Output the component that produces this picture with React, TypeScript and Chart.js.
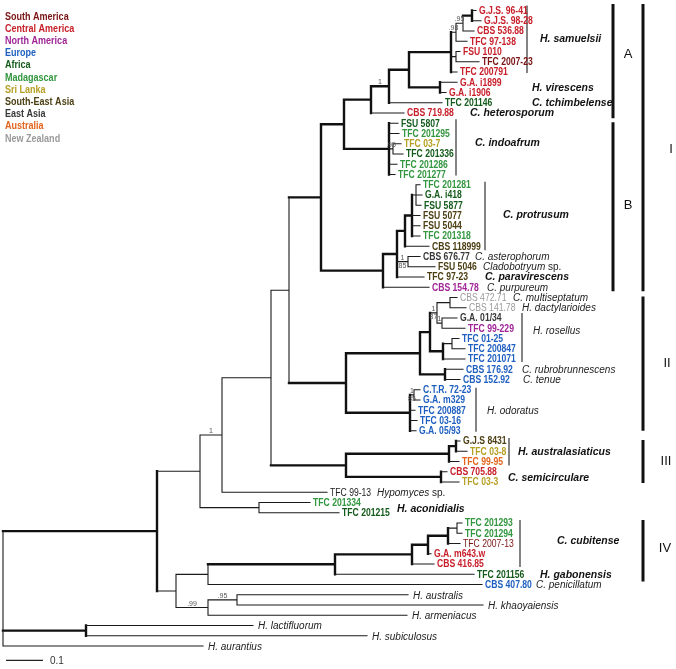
import React, { useEffect, useRef } from 'react';
import { Chart, registerables } from 'chart.js';
Chart.register(...registerables);

const W = 676, H = 669;
const ROW0 = 10.5, ROWH = 10.25;
const UNIT = 370; // x units per 1.0 substitutions/site

const regionNames = ['South America', 'Central America', 'North America', 'Europe', 'Africa', 'Madagascar', 'Sri Lanka', 'South-East Asia', 'East Asia', 'Australia', 'New Zealand'];
const regionColors = ['#7a1313', '#c8202b', '#a02597', '#1f5fc0', '#145a1b', '#32963f', '#b6a024', '#4b3e12', '#383838', '#e2651d', '#9a9a9a'];

// leaves, top to bottom
const leafLabels = [
  'G.J.S. 96-41', 'G.J.S. 98-28', 'CBS 536.88', 'TFC 97-138', 'FSU 1010', 'TFC 2007-23', 'TFC 200791', 'G.A. i1899', 'G.A. i1906', 'TFC 201146',
  'CBS 719.88', 'FSU 5807', 'TFC 201295', 'TFC 03-7', 'TFC 201336', 'TFC 201286', 'TFC 201277', 'TFC 201281', 'G.A. i418', 'FSU 5877',
  'FSU 5077', 'FSU 5044', 'TFC 201318', 'CBS 118999', 'CBS 676.77', 'FSU 5046', 'TFC 97-23', 'CBS 154.78', 'CBS 472.71', 'CBS 141.78',
  'G.A. 01/34', 'TFC 99-229', 'TFC 01-25', 'TFC 200847', 'TFC 201071', 'CBS 176.92', 'CBS 152.92', 'C.T.R. 72-23', 'G.A. m329', 'TFC 200887',
  'TFC 03-16', 'G.A. 05/93', 'G.J.S 8431', 'TFC 03-8', 'TFC 99-95', 'CBS 705.88', 'TFC 03-3', 'TFC 99-13', 'TFC 201334', 'TFC 201215',
  'TFC 201293', 'TFC 201294', 'TFC 2007-13', 'G.A. m643.w', 'CBS 416.85', 'TFC 201156', 'CBS 407.80', 'H. australis', 'H. khaoyaiensis', 'H. armeniacus',
  'H. lactifluorum', 'H. subiculosus', 'H. aurantius',
];
const leafRegion = [
  1, 1, 1, 1, 1, 0, 1, 1, 1, 4,
  1, 4, 5, 6, 4, 5, 5, 5, 4, 4,
  7, 7, 5, 7, 8, 7, 7, 2, 10, 10,
  8, 2, 3, 3, 3, 3, 3, 3, 3, 3,
  3, 3, 7, 6, 9, 1, 6, -1, 5, 4,
  5, 5, 0, 1, 1, 4, 3, -1, -1, -1,
  -1, -1, -1,
];
const leafTip = [
  476, 481, 474, 467, 460, 479, 457, 457, 446, 442,
  404, 398, 399, 401, 403, 397, 395, 420, 422, 421,
  420, 420, 420, 429, 420, 435, 424, 429, 457, 466,
  457, 465, 459, 465, 465, 463, 460, 420, 420, 415,
  417, 416, 460, 467, 459, 447, 459, 327, 310, 339,
  462, 462, 460, 431, 434, 474, 482, 408, 483, 407,
  253, 367, 203,
];
const leafRegular = [28, 29, 47, 52];
const leafItalicFrom = 57;

type Child = number | string;
// [id, depth, children, thick, support above, support below]
const treeNodes: [string, number, Child[], boolean, string, string][] = [
  ['root', 3, ['N157', 'N86', 62], false, '', ''],
  ['N86', 86, [60, 61], true, '', ''],
  ['N157', 157, ['N200', 'N176'], true, '', ''],
  ['N200', 200, ['N222', 'Nacon'], false, '', ''],
  ['N222', 222, ['N271', 47], false, '1', ''],
  ['Nacon', 259, [48, 49], false, '', ''],
  ['N271', 271, ['N289', 'N346a'], false, '', ''],
  ['N289', 289, ['N321', 'N346b'], false, '', ''],
  ['N321', 321, ['N344', 'N383'], true, '', ''],
  ['N344', 344, ['N371', 'Nindo'], true, '', ''],
  ['N371', 371, ['N389', 10], true, '', ''],
  ['N389', 389, ['N409', 9], true, '1', ''],
  ['N409', 409, ['Nsam', 'Nvir'], true, '', ''],
  ['Nsam', 451, ['N98', 'NFSU', 6], true, '', ''],
  ['N98', 456, ['N95', 3], false, '.98', ''],
  ['N95', 463, ['N472', 2], false, '.95', ''],
  ['N472', 472, [0, 1], true, '', ''],
  ['NFSU', 456, [4, 5], false, '', ''],
  ['Nvir', 440, [7, 8], true, '', ''],
  ['Nindo', 389, [11, 12, 'N95i', 15, 16], true, '', ''],
  ['N95i', 393, [13, 14], false, '.95', ''],
  ['N383', 383, ['N399', 27], true, '', ''],
  ['N399', 397, ['N405', 'N408', 26], true, '', ''],
  ['N405', 405, ['P1', 23], true, '', ''],
  ['P1', 412, ['P0', 20, 21, 22], true, '', ''],
  ['P0', 416, [17, 18, 19], false, '', ''],
  ['N408', 408, [24, 25], false, '1', '85'],
  ['N346b', 346, ['N420', 'Nodor'], true, '', ''],
  ['N420', 420, ['N87', 'Nrub'], true, '', ''],
  ['N87', 430, ['Nx', 'Neur'], true, '', ''],
  ['Nx', 437, ['Nmult', 'Nga'], false, '1', '87'],
  ['Nmult', 450, [28, 29], false, '', ''],
  ['Nga', 442, [30, 31], false, '1', ''],
  ['Neur', 443, ['N452', 34], true, '', ''],
  ['N452', 452, [32, 33], false, '', ''],
  ['Nrub', 445, [35, 36], true, '', ''],
  ['Nodor', 410, ['N85o', 39, 40, 41], true, '', ''],
  ['N85o', 414, [37, 38], false, '1', '85'],
  ['N346a', 346, ['Naus', 'Nsemi'], true, '', ''],
  ['Naus', 449, ['N456', 44], true, '', ''],
  ['N456', 456, [42, 43], true, '', ''],
  ['Nsemi', 441, [45, 46], true, '', ''],
  ['N176', 176, ['N208a', 'N208b'], false, '', ''],
  ['N208a', 208, ['Ncg', 56], false, '', ''],
  ['Ncg', 335, ['Ncub', 55], true, '', ''],
  ['Ncub', 412, ['Ncub2', 54], true, '', ''],
  ['Ncub2', 428, ['N448', 53], true, '', ''],
  ['N448', 448, ['N457', 52], true, '', ''],
  ['N457', 457, [50, 51], false, '', ''],
  ['N208b', 208, ['N237', 59], false, '.99', ''],
  ['N237', 237, [57, 58], false, '.95', ''],
];

// species annotations
const speciesText = ['H. samuelsii', 'H. virescens', 'C. tchimbelense', 'C. heterosporum', 'C. indoafrum', 'C. protrusum', 'C. asterophorum', 'Cladobotryum', 'C. paravirescens', 'C. purpureum', 'C. multiseptatum', 'H. dactylarioides', 'H. rosellus', 'C. rubrobrunnescens', 'C. tenue', 'H. odoratus', 'H. australasiaticus', 'C. semicirculare', 'Hypomyces', 'H. aconidialis', 'C. cubitense', 'H. gabonensis', 'C. penicillatum'];
const speciesStyle = ['bi', 'bi', 'bi', 'bi', 'bi', 'bi', 'i', 'isp', 'bi', 'i', 'i', 'i', 'i', 'i', 'i', 'i', 'bi', 'bi', 'isp', 'bi', 'bi', 'bi', 'i'];
const speciesX = [540, 532, 532, 470, 475, 503, 475, 483, 485, 487, 513, 522, 533, 522, 523, 487, 518, 508, 377, 397, 557, 540, 536];
const speciesRow = [2.7, 7.55, 9, 10, 12.9, 19.95, 24, 25, 26, 27, 28, 29, 31.2, 35, 36, 39, 43, 45.6, 47, 48.6, 51.7, 55, 56];

const speciesBarX = [527, 456, 485, 522, 476, 509, 520];
const speciesBarFrom = [-0.5, 10.6, 16.7, 29.5, 36.8, 41.7, 49.7];
const speciesBarTo = [6.1, 16.1, 23.4, 34.3, 41.1, 44.4, 54.3];

const cladeNames = ['A', 'B', 'I', 'II', 'III', 'IV'];
const cladeBarX = [613, 613, 643, 643, 643, 643];
const cladeFrom = [-0.63, 10.9, -0.63, 27.9, 41.9, 49.7];
const cladeTo = [10.5, 27.4, 27.4, 41.0, 46.1, 55.7];
const cladeLabelX = [628, 628, 671, 667, 666, 665];
const cladeLabelRow = [4.3, 19, 13.6, 34.4, 44, 52.5];

const SCALE_VALUE = 0.1;

const NARROW = 0.82;

function drawText(ctx: CanvasRenderingContext2D, text: string, x: number, y: number, font: string, color: string, sx = 1, align: CanvasTextAlign = 'left') {
  ctx.save();
  ctx.font = font;
  ctx.fillStyle = color;
  ctx.textBaseline = 'middle';
  ctx.textAlign = align;
  ctx.translate(x, y);
  ctx.scale(sx, 1);
  ctx.fillText(text, 0, 0);
  const w = ctx.measureText(text).width * sx;
  ctx.restore();
  return w;
}

export default function App() {
  const ref = useRef<HTMLCanvasElement>(null);
  useEffect(() => {
    document.body.style.margin = '0';
    const canvas = ref.current;
    if (!canvas) return;

    const nodeMap = new Map<string, [string, number, Child[], boolean, string, string]>();
    treeNodes.forEach((n) => nodeMap.set(n[0], n));
    const yCache = new Map<string, number>();
    const yOf = (c: Child): number => {
      if (typeof c === 'number') return c;
      if (yCache.has(c)) return yCache.get(c)!;
      const n = nodeMap.get(c)!;
      const ys = n[2].map(yOf);
      const v = (ys[0] + ys[ys.length - 1]) / 2;
      yCache.set(c, v);
      return v;
    };
    const xOf = (c: Child): number => (typeof c === 'number' ? leafTip[c] : nodeMap.get(c)![1]);

    const thin: any[] = [];
    const thick: any[] = [];
    const gap = { x: NaN, y: NaN };
    const seg = (arr: any[], x1: number, y1: number, x2: number, y2: number) => {
      arr.push({ x: x1, y: y1 }, { x: x2, y: y2 }, gap);
    };
    const supports: { text: string; x: number; y: number; below: boolean }[] = [];
    treeNodes.forEach((n) => {
      const [, depth, children, isThick] = n;
      const ys = children.map(yOf);
      seg(isThick ? thick : thin, depth, ys[0], depth, ys[ys.length - 1]);
      children.forEach((c, i) => {
        const cThick = typeof c === 'number' ? false : nodeMap.get(c)![3];
        seg(cThick ? thick : thin, depth, ys[i], xOf(c), ys[i]);
        if (typeof c !== 'number') {
          const cn = nodeMap.get(c)!;
          const mx = (depth + cn[1]) / 2;
          if (cn[4]) supports.push({ text: cn[4], x: mx, y: ys[i], below: false });
          if (cn[5]) supports.push({ text: cn[5], x: mx, y: ys[i], below: true });
        }
      });
    });

    const spBars: any[] = [];
    speciesBarX.forEach((x, i) => seg(spBars, x, speciesBarFrom[i], x, speciesBarTo[i]));
    const clBars: any[] = [];
    cladeBarX.forEach((x, i) => seg(clBars, x, cladeFrom[i], x, cladeTo[i]));
    const scaleRow = 63.4;
    const scaleBar: any[] = [];
    seg(scaleBar, 6, scaleRow, 6 + SCALE_VALUE * UNIT, scaleRow);

    const textPlugin = {
      id: 'treeText',
      afterDatasetsDraw(chart: any) {
        const ctx: CanvasRenderingContext2D = chart.ctx;
        const xs = chart.scales.x;
        const ysc = chart.scales.y;
        const px = (v: number) => xs.getPixelForValue(v);
        const py = (v: number) => ysc.getPixelForValue(v);
        const FONT = '"Liberation Sans", Arial, sans-serif';
        // leaf labels
        leafLabels.forEach((lab, i) => {
          const x = px(leafTip[i]) + 3;
          const y = py(i);
          if (i >= leafItalicFrom) {
            drawText(ctx, lab, x + 2, y + 1, `italic 10px ${FONT}`, '#222');
          } else {
            const reg = leafRegular.includes(i);
            const col = leafRegion[i] >= 0 ? regionColors[leafRegion[i]] : '#222';
            drawText(ctx, lab, x, y + 0.5, `${reg ? '' : 'bold '}10.5px ${FONT}`, col, NARROW);
          }
        });
        // species annotations
        speciesText.forEach((t, i) => {
          const x = px(speciesX[i]);
          const y = py(speciesRow[i]) + 0.5;
          const st = speciesStyle[i];
          if (st === 'bi') drawText(ctx, t, x, y, `bold italic 10.5px ${FONT}`, '#111');
          else if (st === 'i') drawText(ctx, t, x, y, `italic 10px ${FONT}`, '#222');
          else {
            const w = drawText(ctx, t, x, y, `italic 10px ${FONT}`, '#222');
            drawText(ctx, ' sp.', x + w, y, `10px ${FONT}`, '#222');
          }
        });
        // supports
        supports.forEach((s) => {
          drawText(ctx, s.text, px(s.x), py(s.y) + (s.below ? 4 : -4), `7px ${FONT}`, '#555', 1, 'center');
        });
        // clade labels
        cladeNames.forEach((c, i) => {
          drawText(ctx, c, px(cladeLabelX[i]), py(cladeLabelRow[i]), `13px ${FONT}`, '#111', 1, 'center');
        });
        // legend
        regionNames.forEach((r, i) => {
          drawText(ctx, r, 5, 16.5 + i * 12.2, `bold 11px ${FONT}`, regionColors[i], NARROW);
        });
        // scale label
        drawText(ctx, String(SCALE_VALUE), px(6 + SCALE_VALUE * UNIT) + 7, py(scaleRow) + 1, `10px ${FONT}`, '#333');
      },
    };

    const lineDs = (data: any[], width: number, color: string, cap: CanvasLineCap) => ({
      data,
      showLine: true,
      borderColor: color,
      borderWidth: width,
      pointRadius: 0,
      pointHoverRadius: 0,
      spanGaps: false,
      borderCapStyle: cap,
      borderJoinStyle: 'miter',
      tension: 0,
    });

    const chart = new Chart(canvas, {
      type: 'scatter',
      data: {
        datasets: [
          lineDs(thin, 1.1, '#1b1b1b', 'square'),
          lineDs(thick, 2.4, '#111', 'square'),
          lineDs(spBars, 1.2, '#333', 'butt'),
          lineDs(clBars, 3, '#111', 'butt'),
          lineDs(scaleBar, 1.2, '#222', 'butt'),
        ] as any,
      },
      options: {
        animation: false,
        responsive: false,
        maintainAspectRatio: false,
        events: [],
        layout: { padding: 0, autoPadding: false } as any,
        plugins: { legend: { display: false }, tooltip: { enabled: false }, title: { display: false } },
        scales: {
          x: { type: 'linear', min: 0, max: W, display: false },
          y: { type: 'linear', min: -ROW0 / ROWH, max: (H - ROW0) / ROWH, reverse: true, display: false },
        },
      },
      plugins: [textPlugin],
    });
    return () => chart.destroy();
  }, []);

  return (
    <div style={{ width: W, height: H, background: '#fff' }}>
      <canvas ref={ref} width={W} height={H} style={{ display: 'block' }} />
    </div>
  );
}
